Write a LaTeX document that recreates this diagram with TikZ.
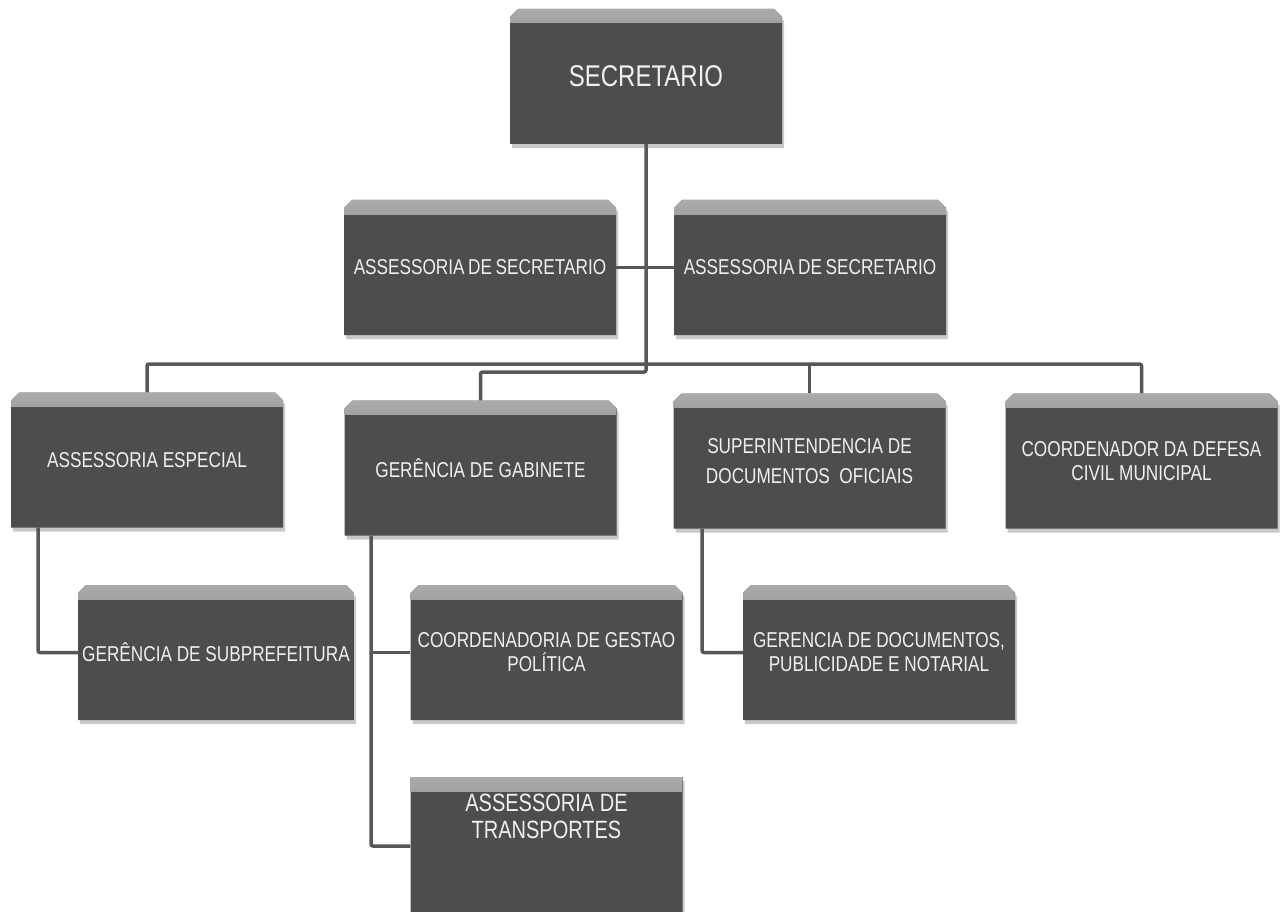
\documentclass[tikz,border=0pt]{standalone}
\usepackage{fontspec}
\newfontfamily\boxfont[FakeStretch=0.8]{Liberation Sans}
\usetikzlibrary{shapes.misc,shadows}
\definecolor{boxgray}{HTML}{4D4D4D}
\definecolor{bevel}{HTML}{ABABAB}
\definecolor{linegray}{HTML}{575757}
\begin{document}
\begin{tikzpicture}[x=1pt,y=-1pt,
  box/.style={chamfered rectangle, chamfered rectangle corners={north west,north east},
    chamfered rectangle xsep=4pt, chamfered rectangle ysep=4pt,
    fill=boxgray, draw=none, minimum width=272pt, minimum height=135pt, inner sep=0pt,
    text=white!94!black, align=center, font=\boxfont\fontsize{21.5}{24}\selectfont,
    drop shadow={shadow xshift=2pt, shadow yshift=-4pt, fill=black!35, opacity=0.6},
    path picture={\shade[top color=bevel, bottom color=boxgray]
      (path picture bounding box.north west) rectangle ([yshift=-14pt]path picture bounding box.north east);}},
  lbl/.style={text=white!94!black, align=center, font=\boxfont\fontsize{25}{27}\selectfont, inner sep=0pt},
  link/.style={draw=linegray, line width=3.5pt, rounded corners=2pt}]
\useasboundingbox (0,0) rectangle (1287,912);
\fill[white] (0,0) rectangle (1287,912);

% boxes
\node[box, font=\boxfont\fontsize{30}{32}\selectfont] (sec) at (646,76.5) {SECRETARIO};
\node[box] (asl) at (480,267.5) {ASSESSORIA\,DE\,SECRETARIO};
\node[box] (asr) at (810,267.5) {ASSESSORIA\,DE\,SECRETARIO};
\node[box] (ae) at (147,460) {ASSESSORIA ESPECIAL};
\node[box] (gg) at (480.5,468) {GERÊNCIA DE GABINETE};
\node[box] (sdo) at (809.5,461) {SUPERINTENDENCIA DE\\[6pt]DOCUMENTOS\ \ OFICIAIS};
\node[box] (cdc) at (1141.5,461) {COORDENADOR DA DEFESA\\CIVIL MUNICIPAL};
\node[box] (gs) at (216,652.5) {GERÊNCIA DE SUBPREFEITURA};
\node[box] (cgp) at (546.5,652.5) {COORDENADORIA DE GESTAO\\POLÍTICA};
\node[box] (gdp) at (879,652.5) {GERENCIA DE DOCUMENTOS,\\PUBLICIDADE E NOTARIAL};
\node[box, minimum height=138pt] (at) at (546.5,846) {};
\node[lbl] (atl) at (546.5,816) {ASSESSORIA DE\\TRANSPORTES};

% helper coordinates
\coordinate (busY) at (0,364);
\coordinate (jogY) at (0,372);
\coordinate (aed) at ([xshift=-109pt]ae.south);
\coordinate (ggd) at ([xshift=-109.5pt]gg.south);
\coordinate (sdod) at ([xshift=-107.5pt]sdo.south);

% connectors
\draw[link] (sec.south) |- (gg.north |- jogY) -- (gg.north);
\draw[link] (ae.north) |- (cdc.north |- busY) -- (cdc.north);
\draw[link] (sdo.north) -- (sdo.north |- busY);
\draw[link] (asl.east) -- (asr.west);
\draw[link] (aed) |- (gs.west);
\draw[link] (ggd) |- (at.west);
\draw[link] (ggd |- cgp.west) -- (cgp.west);
\draw[link] (sdod) |- (gdp.west);
\end{tikzpicture}
\end{document}
